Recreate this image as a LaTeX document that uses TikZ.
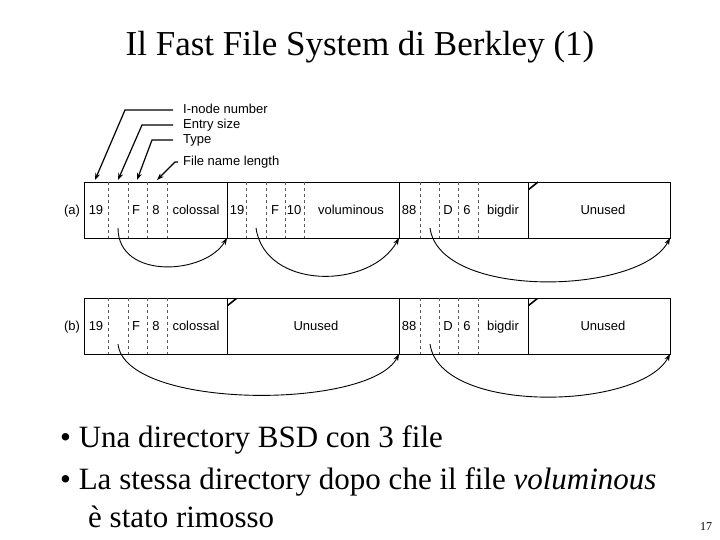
\documentclass[tikz,border=0pt]{standalone}
\usepackage{fontspec}
\setmainfont{Liberation Serif}
\newfontfamily\diagsf{Liberation Sans}
\usetikzlibrary{arrows.meta}
\begin{document}
\begin{tikzpicture}[x=1pt,y=-1pt,
 box/.style={draw,line width=0.9pt},
 dsh/.style={dashed,line width=0.6pt,gray!70!black},
 lab/.style={font=\diagsf\fontsize{13}{13}\selectfont,inner sep=0,text height=9.5pt,text depth=2.5pt},
 arr/.style={-{Stealth[length=7pt,width=5pt]},line width=0.9pt},
 call/.style={line width=1.2pt,-{Stealth[length=7pt,width=5pt]}},
 big/.style={anchor=west,font=\fontsize{31}{31}\selectfont,inner sep=0}]
\useasboundingbox (0,0) rectangle (720,540);
\newcommand\myhatch[4]{%
  \begin{scope}
  \clip (#1,#2) rectangle (#3,#4);
  \foreach \k in {#1,8,...,#3} \draw[line width=1.6pt] (\k-60,#4) -- (\k+10,#2);
  \end{scope}}
\node (title) at (360,47) {\fontsize{35}{35}\selectfont Il Fast File System di Berkley (1)};
% row a
\myhatch{528}{182}{740}{238}
\fill[white] (578,204) rectangle (628,218);
\fill[white] (670,180) rectangle (720,240);
\draw[box] (84,182) rectangle (670,238);
\foreach \x in {227,399,528} \draw[box] (\x,182) -- (\x,238);
\foreach \x in {108,128,147,167,246,266,285,304,420,439,458,478} \draw[dsh] (\x,182) -- (\x,238);
\node[lab] (a) at (72,211) {(a)};
\foreach \x/\t in {96/19,136/F,156/8,196/colossal,237/19,275/F,294/10,351/voluminous,409/88,448/D,467/6,503/bigdir,603/Unused}
  \node[lab] at (\x,211) {\t};
% row b
\myhatch{227}{298}{399}{354}
\myhatch{528}{298}{740}{354}
\fill[white] (291,320) rectangle (341,334);
\fill[white] (578,320) rectangle (628,334);
\fill[white] (670,296) rectangle (720,356);
\draw[box] (84,298) rectangle (670,354);
\foreach \x in {227,399,528} \draw[box] (\x,298) -- (\x,354);
\foreach \x in {108,128,147,167,420,439,458,478} \draw[dsh] (\x,298) -- (\x,354);
\node[lab] (b) at (72,327) {(b)};
\foreach \x/\t in {96/19,136/F,156/8,196/colossal,316/Unused,409/88,448/D,467/6,503/bigdir,603/Unused}
  \node[lab] at (\x,327) {\t};
% link arrows
\coordinate (a1) at (118,228); \coordinate (a1e) at (227,238);
\coordinate (a2) at (256,228); \coordinate (a2e) at (399,238);
\coordinate (a3) at (430,228); \coordinate (a3e) at (670,238);
\coordinate (b1) at (118,344); \coordinate (b1e) at (399,354);
\coordinate (b2) at (430,344); \coordinate (b2e) at (670,354);
\draw[arr] (a1) .. controls (118,280) and (205,275) .. (a1e);
\draw[arr] (a2) .. controls (265,290) and (370,290) .. (a2e);
\draw[arr] (a3) .. controls (440,300) and (640,295) .. (a3e);
\draw[arr] (b1) .. controls (125,410) and (370,410) .. (b1e);
\draw[arr] (b2) .. controls (440,415) and (640,410) .. (b2e);
% callouts
\node[lab,anchor=west] (l1) at (183,110) {I-node number};
\node[lab,anchor=west] (l2) at (183,125) {Entry size};
\node[lab,anchor=west] (l3) at (183,140) {Type};
\node[lab,anchor=west] (l4) at (183,162) {File name length};
\draw[call] (l1.west) ++(-10,0) -- (125,110) -- (95,180);
\draw[call] (l2.west) ++(-10,0) -- (142,125) -- (118,180);
\draw[call] (l3.west) ++(-10,0) -- (152,140) -- (137,180);
\draw[call] (l4.west) ++(-5,0) -- (175,162) -- (157,180);
% bullets
\node[big] (t1) at (60,440) {\textbullet\ Una directory BSD con 3 file};
\node[big] (t2) at (60,482) {\textbullet\ La stessa directory dopo che il file \textit{voluminous}};
\node[big] (t3) at (88,517) {è stato rimosso};
\node[font=\fontsize{12}{12}\selectfont] (pg) at (706,527) {17};
\end{tikzpicture}
\end{document}
